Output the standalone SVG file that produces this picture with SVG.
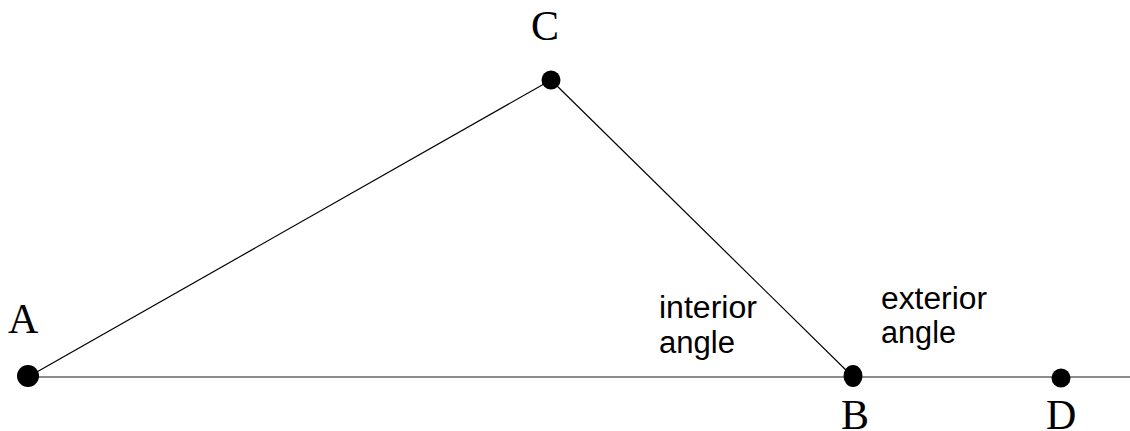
<svg xmlns="http://www.w3.org/2000/svg" width="1130" height="431" viewBox="0 0 1130 431">
<style>
.lbl{font-family:"Liberation Serif","Times New Roman",serif;font-size:42px;fill:#000}
.txt{font-family:"Liberation Sans",Arial,sans-serif;font-size:31px;fill:#000}
.pt{fill:#000}
.edge{stroke:#000;stroke-width:1.2;fill:none}
.base{stroke:#666;stroke-width:1.5;fill:none}
</style>
<rect width="1130" height="431" fill="#fff"/>
<g id="connectors">
<line class="base" x1="28" y1="377" x2="1130" y2="377"/>
<line class="edge" x1="28" y1="377" x2="551" y2="80"/>
<line class="edge" x1="551" y1="80" x2="853" y2="377"/>
</g>
<g id="A"><circle class="pt" cx="28" cy="376" r="11"/><text class="lbl" x="8" y="333">A</text></g>
<g id="C"><circle class="pt" cx="551" cy="80" r="9.5"/><text class="lbl" x="531" y="40">C</text></g>
<g id="B"><ellipse class="pt" cx="853" cy="376" rx="9.5" ry="11"/><text class="lbl" x="841" y="429">B</text></g>
<g id="D"><circle class="pt" cx="1061" cy="378" r="9.5"/><text class="lbl" x="1046" y="429">D</text></g>
<g id="interior"><text class="txt" x="659" y="318" textLength="98" lengthAdjust="spacingAndGlyphs">interior</text><text class="txt" x="659" y="353" textLength="76" lengthAdjust="spacingAndGlyphs">angle</text></g>
<g id="exterior"><text class="txt" x="881" y="309" textLength="106" lengthAdjust="spacingAndGlyphs">exterior</text><text class="txt" x="881" y="343" textLength="75" lengthAdjust="spacingAndGlyphs">angle</text></g>
</svg>
